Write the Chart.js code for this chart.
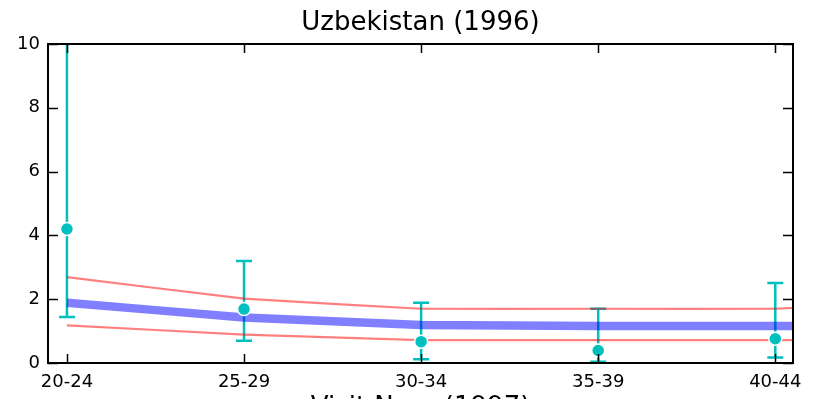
<!DOCTYPE html>
<html><head><meta charset="utf-8">
<style>html,body{margin:0;padding:0;overflow:hidden;background:#fff}</style>
<script src="https://cdn.jsdelivr.net/npm/chart.js@4"></script>
</head><body>
<div style="width:820px;height:430px"><canvas id="c" width="820" height="430"></canvas></div>
<script>
// ---- data ----
const categories = ['20-24', '25-29', '30-34', '35-39', '40-44'];
const observed   = [4.2, 1.69, 0.67, 0.39, 0.76];
const errLow     = [1.44, 0.70, 0.12, 0.04, 0.17];
const errHigh    = [12.0, 3.20, 1.89, 1.70, 2.51];
const fitPos     = [0, 1, 2, 3, 4, 5];
const fitMid     = [1.89, 1.43, 1.19, 1.16, 1.16, 1.18];
const fitUpper   = [2.69, 2.02, 1.70, 1.70, 1.70, 2.00];
const fitLower   = [1.18, 0.89, 0.72, 0.72, 0.72, 0.72];
const yTicks     = [0, 2, 4, 6, 8, 10];
const titleText  = 'Uzbekistan (1996)';
const xLabelText = 'Visit Num (1997)';

const FONT = "'DejaVu Sans', sans-serif";
const CYAN = '#00BFBF';

const pts = (ys) => ys.map((y, i) => ({x: fitPos[i], y}));
const obsPts = observed.map((y, i) => ({x: i, y}));

const framePlugin = {
  id: 'frame',
  beforeDatasetsDraw(chart) {
    const {ctx, chartArea: a, scales: {x, y}} = chart;
    ctx.save();
    ctx.beginPath(); ctx.rect(a.left, a.top, a.right - a.left, a.bottom - a.top); ctx.clip();
    ctx.strokeStyle = CYAN; ctx.lineWidth = 2.5;
    categories.forEach((c, i) => {
      const px = x.getPixelForValue(i);
      const lo = y.getPixelForValue(errLow[i]);
      const hi = y.getPixelForValue(errHigh[i]);
      ctx.beginPath();
      ctx.moveTo(px, lo); ctx.lineTo(px, hi);
      ctx.moveTo(px - 8, lo); ctx.lineTo(px + 8, lo);
      ctx.moveTo(px - 8, hi); ctx.lineTo(px + 8, hi);
      ctx.stroke();
    });
    ctx.restore();
  },
  afterDatasetsDraw(chart) {
    const {ctx, chartArea: a, scales: {x, y}} = chart;
    ctx.save();
    ctx.strokeStyle = '#000';
    ctx.lineWidth = 1.5;
    ctx.beginPath();
    categories.forEach((c, i) => {
      const px = Math.round(x.getPixelForValue(i)) + 0.5;
      ctx.moveTo(px, a.top); ctx.lineTo(px, a.top + 9);
      ctx.moveTo(px, a.bottom); ctx.lineTo(px, a.bottom - 9);
    });
    yTicks.forEach(v => {
      const py = Math.round(y.getPixelForValue(v)) + 0.5;
      ctx.moveTo(a.left, py); ctx.lineTo(a.left + 10, py);
      ctx.moveTo(a.right, py); ctx.lineTo(a.right - 10, py);
    });
    ctx.stroke();
    ctx.lineWidth = 2;
    ctx.strokeRect(a.left, a.top, a.right - a.left, a.bottom - a.top);
    // title centred over the plot area
    ctx.fillStyle = '#000';
    ctx.font = '26px ' + FONT;
    ctx.textAlign = 'center';
    ctx.textBaseline = 'alphabetic';
    ctx.fillText(titleText, (a.left + a.right) / 2, 30);
    ctx.restore();
  }
};

new Chart(document.getElementById('c'), {
  type: 'line',
  data: {
    datasets: [
      {type: 'scatter', data: obsPts, showLine: false, pointRadius: 6.5, pointHoverRadius: 6.5,
       backgroundColor: CYAN, borderColor: '#fff', pointBorderWidth: 1.5, clip: false},
      {data: pts(fitUpper), borderColor: 'rgba(255,0,0,0.5)', borderWidth: 2.2, pointRadius: 0, tension: 0.05},
      {data: pts(fitMid), borderColor: 'rgba(0,0,255,0.5)', borderWidth: 8.5, pointRadius: 0, tension: 0.05},
      {data: pts(fitLower), borderColor: 'rgba(255,0,0,0.5)', borderWidth: 2.2, pointRadius: 0, tension: 0.05}
    ]
  },
  options: {
    responsive: false, animation: false, devicePixelRatio: 1,
    layout: {padding: {left: 0, right: 27, top: 44, bottom: 0}},
    plugins: {
      legend: {display: false}, tooltip: {enabled: false}, title: {display: false}
    },
    scales: {
      x: {
        type: 'linear', min: -0.107, max: 4.1,
        afterBuildTicks: s => { s.ticks = categories.map((c, i) => ({value: i})); },
        afterFit: s => { s.height = 67; },
        ticks: {callback: v => categories[v], color: '#000', padding: 9, maxRotation: 0, autoSkip: false,
                font: {family: FONT, size: 18}},
        grid: {display: false, drawTicks: false},
        border: {display: false},
        title: {display: true, text: xLabelText, color: '#000', font: {family: FONT, size: 26},
                padding: {top: 0, bottom: 6}}
      },
      y: {
        min: 0, max: 10,
        afterBuildTicks: s => { s.ticks = yTicks.map(v => ({value: v})); },
        afterFit: s => { s.width = 48; },
        ticks: {color: '#000', padding: 8, font: {family: FONT, size: 18}},
        grid: {display: false, drawTicks: false},
        border: {display: false}
      }
    }
  },
  plugins: [framePlugin]
});
</script>
</body></html>
